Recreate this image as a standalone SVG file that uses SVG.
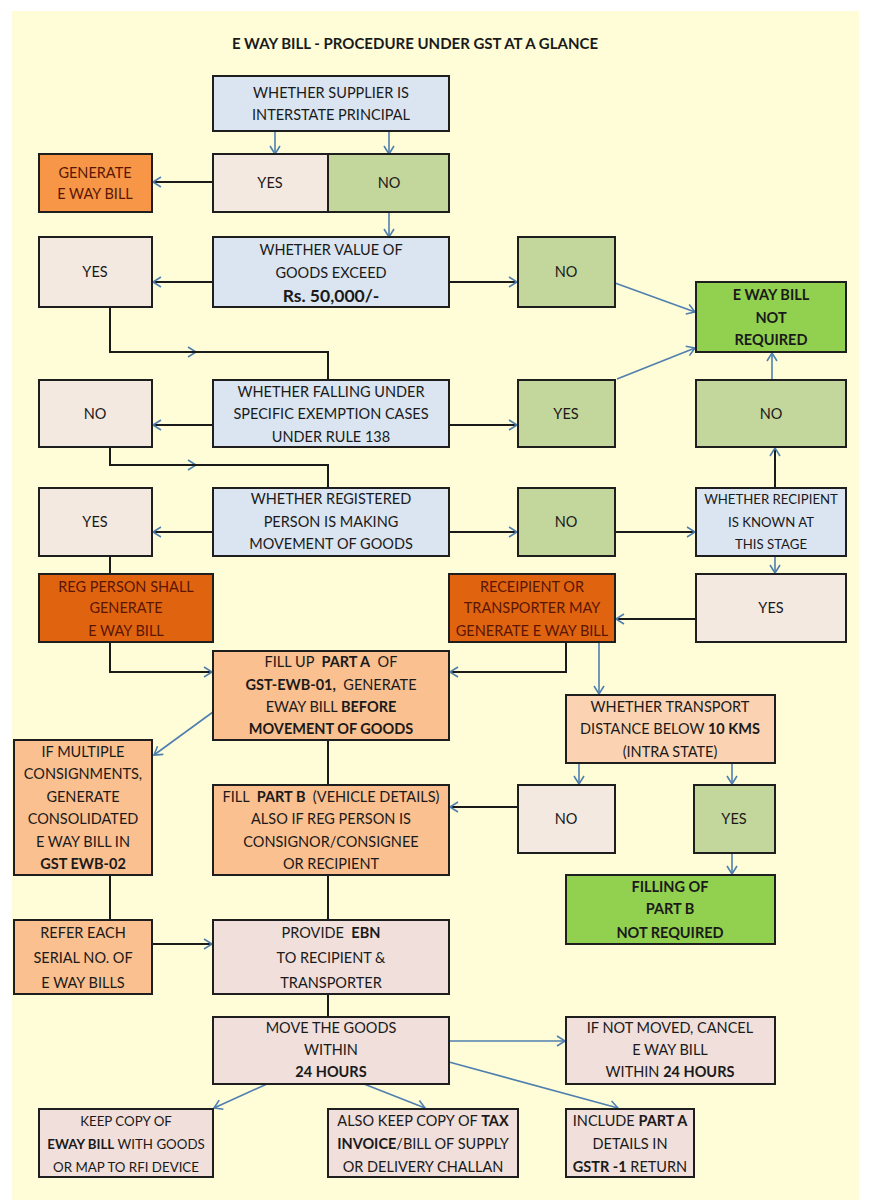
<svg xmlns="http://www.w3.org/2000/svg" width="871" height="1200" viewBox="0 0 871 1200">
<defs>
<style>
.bx{stroke:#1e1e1e;stroke-width:2}
.blue{fill:#DBE5F1}.pale{fill:#F4E9E1}.pink{fill:#F0DFDB}.lg{fill:#C3D69B}.bg{fill:#92D050}
.or{fill:#F79646}.dor{fill:#E0640F}.pe{fill:#FAC090}.lpe{fill:#FBD3B2}
text{font-family:Lato,"Liberation Sans",sans-serif;font-size:14.5px;fill:#1a1a1a;text-anchor:middle}
.m{fill:#5a1605}
.b{font-weight:bold}
.s{font-size:13.3px}
.k{fill:none;stroke:#1a1a1a;stroke-width:2}
.u{fill:none;stroke:#4F7FAF;stroke-width:1.6}
</style>
<marker id="ah" markerUnits="userSpaceOnUse" markerWidth="12" markerHeight="14" refX="9" refY="6" orient="auto">
<path d="M1,1 L9,6 L1,11" fill="none" stroke="#4F7FAF" stroke-width="1.6"/>
</marker>
</defs>
<rect x="0" y="0" width="871" height="1200" fill="#ffffff"/>
<rect x="12" y="11" width="847" height="1189" fill="#FFFDD8"/>
<text x="415" y="49" class="b" style="font-size:15px">E WAY BILL - PROCEDURE UNDER GST AT A GLANCE</text>

<g id="connectors">
<path class="u" d="M275,131 V154" marker-end="url(#ah)"/>
<path class="u" d="M389,131 V154" marker-end="url(#ah)"/>
<path class="k" d="M213,182 H153" marker-end="url(#ah)"/>
<path class="u" d="M389,212 V237" marker-end="url(#ah)"/>
<path class="k" d="M213,282 H153" marker-end="url(#ah)"/>
<path class="k" d="M449,282 H517" marker-end="url(#ah)"/>
<path class="u" d="M615,283 L695,312" marker-end="url(#ah)"/>
<path class="k" d="M110,307 V352 H196" marker-end="url(#ah)"/>
<path class="k" d="M190,352 H328 V380"/>
<path class="u" d="M617,379 L695,348" marker-end="url(#ah)"/>
<path class="u" d="M772,380 V353" marker-end="url(#ah)"/>
<path class="k" d="M213,425 H153" marker-end="url(#ah)"/>
<path class="k" d="M449,425 H517" marker-end="url(#ah)"/>
<path class="k" d="M110,447 V465 H196" marker-end="url(#ah)"/>
<path class="k" d="M190,465 H328 V488"/>
<path class="k" d="M775,488 V448" marker-end="url(#ah)"/>
<path class="k" d="M213,532 H153" marker-end="url(#ah)"/>
<path class="k" d="M449,532 H517" marker-end="url(#ah)"/>
<path class="k" d="M615,532 H695" marker-end="url(#ah)"/>
<path class="k" d="M110,556 V574"/>
<path class="u" d="M775,556 V573" marker-end="url(#ah)"/>
<path class="k" d="M696,619 H616" marker-end="url(#ah)"/>
<path class="k" d="M110,642 V672 H212" marker-end="url(#ah)"/>
<path class="k" d="M566,642 V672 H450" marker-end="url(#ah)"/>
<path class="u" d="M599,642 V694" marker-end="url(#ah)"/>
<path class="u" d="M213,712 L154,755" marker-end="url(#ah)"/>
<path class="k" d="M328,740 V785"/>
<path class="u" d="M579,763 V784" marker-end="url(#ah)"/>
<path class="u" d="M732,763 V784" marker-end="url(#ah)"/>
<path class="k" d="M518,807 H450" marker-end="url(#ah)"/>
<path class="u" d="M732,853 V874" marker-end="url(#ah)"/>
<path class="k" d="M110,875 V920"/>
<path class="k" d="M328,875 V920"/>
<path class="k" d="M152,944 H212" marker-end="url(#ah)"/>
<path class="k" d="M328,994 V1017"/>
<path class="u" d="M449,1041 H565" marker-end="url(#ah)"/>
<path class="u" d="M267,1084 L214,1108" marker-end="url(#ah)"/>
<path class="u" d="M364,1084 L425,1108" marker-end="url(#ah)"/>
<path class="u" d="M449,1062 L618,1108" marker-end="url(#ah)"/>
</g>

<g id="n-supplier"><rect class="bx blue" x="213" y="76" width="236" height="55"/>
<text x="331" y="98">WHETHER SUPPLIER IS</text><text x="331" y="120">INTERSTATE PRINCIPAL</text></g>
<g id="n-yes1"><rect class="bx pale" x="213" y="154" width="115" height="58"/><text x="270" y="188">YES</text></g>
<g id="n-no1"><rect class="bx lg" x="328" y="154" width="121" height="58"/><text x="389" y="188">NO</text></g>
<g id="n-generate"><rect class="bx or" x="39" y="154" width="113" height="58"/>
<text class="m" x="95" y="178">GENERATE</text><text class="m" x="95" y="199">E WAY BILL</text></g>

<g id="n-value"><rect class="bx blue" x="213" y="237" width="236" height="70"/>
<text x="331" y="255">WHETHER VALUE OF</text><text x="331" y="278">GOODS EXCEED</text>
<text x="331" y="302" class="b" style="font-size:17.5px">Rs. 50,000/-</text></g>
<g id="n-yes2"><rect class="bx pale" x="39" y="237" width="113" height="70"/><text x="95" y="277">YES</text></g>
<g id="n-no2"><rect class="bx lg" x="518" y="237" width="97" height="70"/><text x="566" y="277">NO</text></g>
<g id="n-notreq"><rect class="bx bg" x="696" y="282" width="150" height="70"/>
<text x="771" y="300" class="b">E WAY BILL</text><text x="771" y="323" class="b">NOT</text><text x="771" y="345" class="b">REQUIRED</text></g>

<g id="n-exempt"><rect class="bx blue" x="213" y="380" width="236" height="67"/>
<text x="331" y="397">WHETHER FALLING UNDER</text><text x="331" y="419">SPECIFIC EXEMPTION CASES</text><text x="331" y="442">UNDER RULE 138</text></g>
<g id="n-no3"><rect class="bx pale" x="39" y="380" width="113" height="67"/><text x="95" y="419">NO</text></g>
<g id="n-yes3"><rect class="bx lg" x="518" y="380" width="97" height="67"/><text x="566" y="419">YES</text></g>
<g id="n-no4"><rect class="bx lg" x="696" y="380" width="150" height="67"/><text x="771" y="419">NO</text></g>

<g id="n-registered"><rect class="bx blue" x="213" y="488" width="236" height="68"/>
<text x="331" y="504">WHETHER REGISTERED</text><text x="331" y="527">PERSON IS MAKING</text><text x="331" y="549">MOVEMENT OF GOODS</text></g>
<g id="n-yes4"><rect class="bx pale" x="39" y="488" width="113" height="68"/><text x="95" y="527">YES</text></g>
<g id="n-no5"><rect class="bx lg" x="518" y="488" width="97" height="68"/><text x="566" y="527">NO</text></g>
<g id="n-recipient"><rect class="bx blue" x="696" y="488" width="150" height="68"/>
<text x="771" y="504" style="font-size:13.2px">WHETHER RECIPIENT</text><text x="771" y="527" style="font-size:13.2px">IS KNOWN AT</text><text x="771" y="549" style="font-size:13.2px">THIS STAGE</text></g>

<g id="n-regperson"><rect class="bx dor" x="39" y="574" width="174" height="68"/>
<text class="m" x="126" y="592">REG PERSON SHALL</text><text class="m" x="126" y="613">GENERATE</text><text class="m" x="126" y="636">E WAY BILL</text></g>
<g id="n-receipient"><rect class="bx dor" x="449" y="574" width="166" height="68"/>
<text class="m" x="532" y="592">RECEIPIENT OR</text><text class="m" x="532" y="613">TRANSPORTER MAY</text><text class="m" x="532" y="636">GENERATE E WAY BILL</text></g>
<g id="n-yes5"><rect class="bx pale" x="696" y="574" width="150" height="68"/><text x="771" y="613">YES</text></g>

<g id="n-partA"><rect class="bx pe" x="213" y="651" width="236" height="89"/>
<text x="331" y="667" xml:space="preserve">FILL UP  <tspan class="b">PART A</tspan>  OF</text>
<text x="331" y="690" xml:space="preserve"><tspan class="b">GST-EWB-01,</tspan>  GENERATE</text>
<text x="331" y="712">EWAY BILL <tspan class="b">BEFORE</tspan></text>
<text x="331" y="734" class="b">MOVEMENT OF GOODS</text></g>
<g id="n-transport"><rect class="bx lpe" x="566" y="695" width="209" height="68"/>
<text x="670" y="712">WHETHER TRANSPORT</text><text x="670" y="734">DISTANCE BELOW <tspan class="b">10 KMS</tspan></text><text x="670" y="757">(INTRA STATE)</text></g>

<g id="n-multiple"><rect class="bx pe" x="14" y="740" width="138" height="135"/>
<text x="83" y="757">IF MULTIPLE</text><text x="83" y="779">CONSIGNMENTS,</text><text x="83" y="802">GENERATE</text>
<text x="83" y="824">CONSOLIDATED</text><text x="83" y="847">E WAY BILL IN</text><text x="83" y="869" class="b">GST EWB-02</text></g>
<g id="n-partB"><rect class="bx pe" x="213" y="785" width="236" height="90"/>
<text x="331" y="802" xml:space="preserve">FILL  <tspan class="b">PART B</tspan>  (VEHICLE DETAILS)</text><text x="331" y="824">ALSO IF REG PERSON IS</text>
<text x="331" y="847">CONSIGNOR/CONSIGNEE</text><text x="331" y="869">OR RECIPIENT</text></g>
<g id="n-no6"><rect class="bx pale" x="518" y="785" width="97" height="68"/><text x="566" y="824">NO</text></g>
<g id="n-yes6"><rect class="bx lg" x="694" y="785" width="81" height="68"/><text x="734" y="824">YES</text></g>
<g id="n-fillingB"><rect class="bx bg" x="566" y="875" width="209" height="69"/>
<text x="670" y="892" class="b">FILLING OF</text><text x="670" y="914" class="b">PART B</text><text x="670" y="938" class="b">NOT REQUIRED</text></g>

<g id="n-refer"><rect class="bx pe" x="14" y="920" width="138" height="74"/>
<text x="83" y="938">REFER EACH</text><text x="83" y="963">SERIAL NO. OF</text><text x="83" y="988">E WAY BILLS</text></g>
<g id="n-provide"><rect class="bx pink" x="213" y="920" width="236" height="74"/>
<text x="331" y="938" xml:space="preserve">PROVIDE  <tspan class="b">EBN</tspan></text><text x="331" y="963">TO RECIPIENT &amp;</text><text x="331" y="988">TRANSPORTER</text></g>

<g id="n-move"><rect class="bx pink" x="213" y="1017" width="236" height="67"/>
<text x="331" y="1033">MOVE THE GOODS</text><text x="331" y="1055">WITHIN</text><text x="331" y="1077" class="b">24 HOURS</text></g>
<g id="n-cancel"><rect class="bx pink" x="566" y="1017" width="209" height="67"/>
<text x="670" y="1033">IF NOT MOVED, CANCEL</text><text x="670" y="1055">E WAY BILL</text><text x="670" y="1077">WITHIN <tspan class="b">24 HOURS</tspan></text></g>

<g id="n-keep"><rect class="bx pink" x="39" y="1109" width="174" height="68"/>
<text x="126" y="1126" class="s">KEEP COPY OF</text><text x="126" y="1149" class="s"><tspan class="b">EWAY BILL</tspan> WITH GOODS</text><text x="126" y="1172" class="s">OR MAP TO RFI DEVICE</text></g>
<g id="n-invoice"><rect class="bx pink" x="328" y="1109" width="190" height="68"/>
<text x="423" y="1126">ALSO KEEP COPY OF <tspan class="b">TAX</tspan></text><text x="423" y="1149"><tspan class="b">INVOICE</tspan>/BILL OF SUPPLY</text><text x="423" y="1172">OR DELIVERY CHALLAN</text></g>
<g id="n-gstr"><rect class="bx pink" x="566" y="1109" width="128" height="68"/>
<text x="630" y="1126">INCLUDE <tspan class="b">PART A</tspan></text><text x="630" y="1149">DETAILS IN</text><text x="630" y="1172"><tspan class="b">GSTR -1</tspan> RETURN</text></g>
</svg>
